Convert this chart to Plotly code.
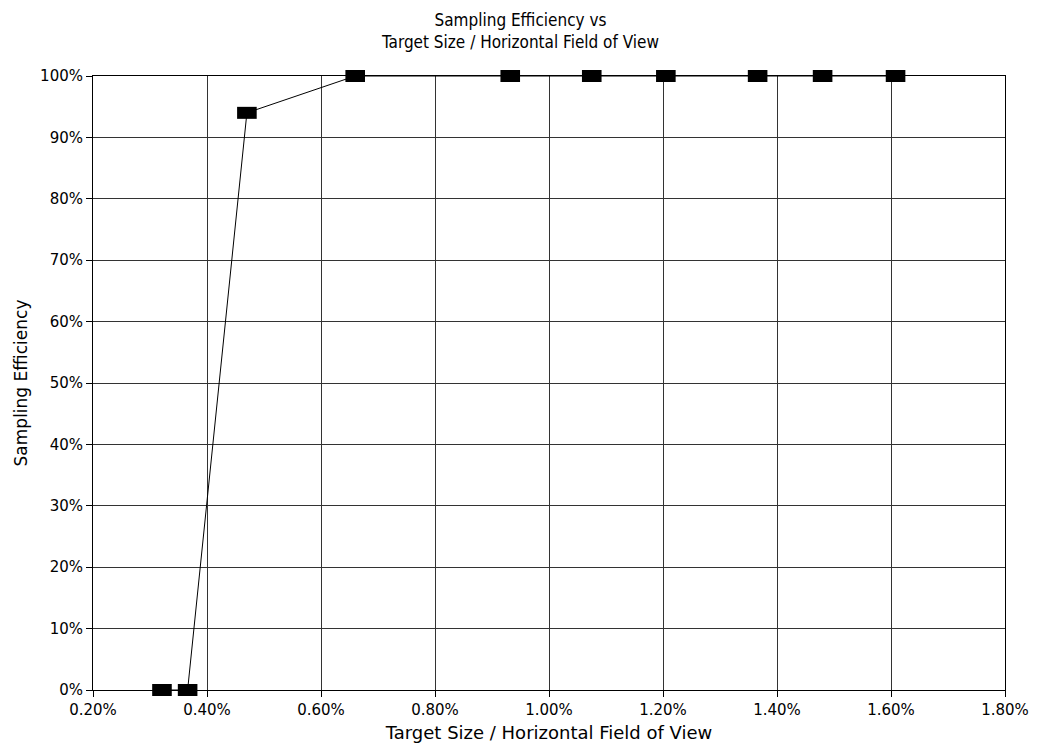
import plotly.graph_objects as go

# Target size as a fraction of horizontal field of view (%), and sampling efficiency (%)
target_ratio_pct = [0.321, 0.366, 0.470, 0.660, 0.932, 1.075, 1.205, 1.366, 1.480, 1.608]
efficiency_pct = [0, 0, 94, 100, 100, 100, 100, 100, 100, 100]

x_ticks = [0.2, 0.4, 0.6, 0.8, 1.0, 1.2, 1.4, 1.6, 1.8]
x_tick_text = ["0.20%", "0.40%", "0.60%", "0.80%", "1.00%", "1.20%", "1.40%", "1.60%", "1.80%"]
y_ticks = list(range(0, 101, 10))
y_tick_text = [f"{v}%" for v in y_ticks]

cond_font = "DejaVu Sans Condensed, DejaVu Sans, Liberation Sans, sans-serif"
wide_font = "DejaVu Sans, Liberation Sans, sans-serif"

fig = go.Figure()

# connecting line
fig.add_trace(go.Scatter(
    x=target_ratio_pct, y=efficiency_pct, mode="lines",
    line=dict(color="black", width=1), hoverinfo="skip", showlegend=False,
))
# rectangular black point markers
fig.add_trace(go.Scatter(
    x=target_ratio_pct, y=efficiency_pct, mode="markers",
    marker=dict(symbol="line-ew", size=14, line=dict(color="black", width=12)),
    showlegend=False, cliponaxis=False,
))

axis_common = dict(
    showgrid=True, gridcolor="#333", gridwidth=1,
    showline=True, linecolor="black", linewidth=1, mirror=True,
    ticks="outside", ticklen=6, tickcolor="black",
    zeroline=False,
    tickfont=dict(family=wide_font, size=15, color="black"),
)

fig.update_layout(
    width=1041, height=752,
    margin=dict(l=93, r=33, t=76, b=62),
    paper_bgcolor="white", plot_bgcolor="white",
    title=dict(
        text="Sampling Efficiency vs<br>Target Size / Horizontal Field of View",
        x=0.5, xanchor="center", y=1 - 26 / 752, yanchor="middle",
        font=dict(family=cond_font, size=17, color="black"),
    ),
    xaxis=dict(
        range=[0.2, 1.8], tickvals=x_ticks, ticktext=x_tick_text,
        title=dict(text="Target Size / Horizontal Field of View", standoff=8,
                   font=dict(family=wide_font, size=18, color="black")),
        **axis_common,
    ),
    yaxis=dict(
        range=[0, 100], tickvals=y_ticks, ticktext=y_tick_text,
        title=dict(text="Sampling Efficiency", standoff=8,
                   font=dict(family=wide_font, size=17, color="black")),
        **axis_common,
    ),
)

fig.write_html("out.html")
